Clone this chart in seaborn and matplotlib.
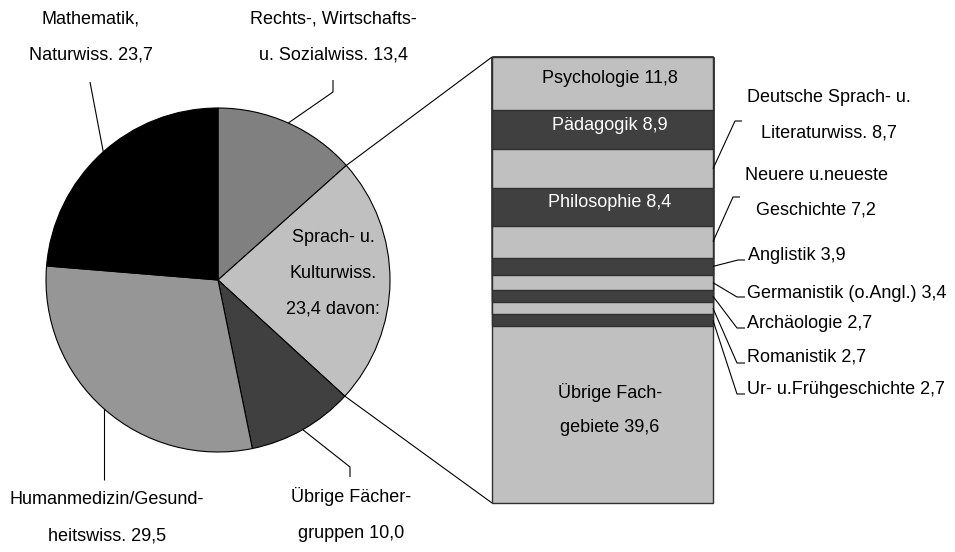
import numpy as np
import pandas as pd
import matplotlib.pyplot as plt
import seaborn as sns
from matplotlib import font_manager

# Fächergruppen (Kreis), Anteile in %
gruppen = ["Rechts-, Wirtschafts-\nu. Sozialwiss.", "Sprach- u.\nKulturwiss.",
           "Übrige Fächer-\ngruppen", "Humanmedizin/Gesund-\nheitswiss.",
           "Mathematik,\nNaturwiss."]
gruppen_werte = [13.4, 23.4, 10.0, 29.5, 23.7]
gruppen_farben = ["#808080", "#c0c0c0", "#404040", "#969696", "#000000"]

# Aufschlüsselung Sprach- u. Kulturwiss. (Säule), Anteile in %
faecher = ["Psychologie", "Pädagogik", "Deutsche Sprach- u.\nLiteraturwiss.",
           "Philosophie", "Neuere u.neueste\nGeschichte", "Anglistik",
           "Germanistik (o.Angl.)", "Archäologie", "Romanistik",
           "Ur- u.Frühgeschichte", "Übrige Fach-\ngebiete"]
faecher_werte = [11.8, 8.9, 8.7, 8.4, 7.2, 3.9, 3.4, 2.7, 2.7, 2.7, 39.6]
faecher_farben = ["#c0c0c0", "#404040"] * 5 + ["#c0c0c0"]


def fmt(v):
    return f"{v:.1f}".replace(".", ",")


sns.set_theme(style="white")
# schmale Schrift, falls vorhanden
try:
    font_manager.findfont("Liberation Sans Narrow", fallback_to_default=False)
    familie, FS = "Liberation Sans Narrow", 15.5
except ValueError:
    familie, FS = "Liberation Sans", 13
plt.rcParams["font.family"] = [familie, "DejaVu Sans"]

W, H = 955, 552
fig = plt.figure(figsize=(W / 100, H / 100), dpi=100)
ax = fig.add_axes([0, 0, 1, 1])
ax.set_zorder(3)

# --- Kreis ---
cx, cy, r = 218, H - 280, 172
wedges, _ = ax.pie(gruppen_werte, colors=gruppen_farben, startangle=90,
                   counterclock=False, center=(cx, cy), radius=r,
                   wedgeprops=dict(edgecolor="black", linewidth=0.8))
ax.set_xlim(0, W)
ax.set_ylim(0, H)
ax.set_aspect("auto")
ax.axis("off")


def rand(theta, rr=r):
    t = np.deg2rad(theta)
    return cx + rr * np.cos(t), cy + rr * np.sin(t)


def zeilen(x, yc, text, ha="center", color="black", gap=37):
    parts = text.split("\n")
    n = len(parts)
    for i, s in enumerate(parts):
        ax.text(x, yc + ((n - 1) / 2 - i) * gap, s, ha=ha, va="center",
                fontsize=FS, color=color)


def linie(pts):
    xs, ys = zip(*pts)
    ax.plot(xs, ys, color="black", lw=0.8, solid_capstyle="butt")


mitte = [(w.theta1 + w.theta2) / 2 for w in wedges]

# Beschriftungen Kreis (Positionen in Pixel von oben)
zeilen(333, H - 37, f"{gruppen[0]} {fmt(gruppen_werte[0])}")
linie([rand(mitte[0]), (333, H - 92), (333, H - 80)])
zeilen(333, H - 273, f"{gruppen[1]}\n{fmt(gruppen_werte[1])} davon:", gap=36)
zeilen(351, H - 515.5, f"{gruppen[2]} {fmt(gruppen_werte[2])}")
linie([rand(mitte[2]), (350, H - 467), (350, H - 477)])
zeilen(107, H - 517.5, f"{gruppen[3]} {fmt(gruppen_werte[3])}")
px, py = rand(mitte[3])
linie([(px, py), (px, H - 480)])
zeilen(91, H - 37, f"{gruppen[4]} {fmt(gruppen_werte[4])}")
linie([rand(mitte[4], r - 4), (90, H - 82)])

# --- Säule ---
df = pd.DataFrame({"fach": faecher, "wert": faecher_werte})
df["bis"] = df["wert"].cumsum()
df["von"] = df["bis"] - df["wert"]
df["saeule"] = ""

ax2 = fig.add_axes([492 / W, (H - 503) / H, 221 / W, 446 / H])
ax2.set_zorder(1)
sns.barplot(data=df, x="saeule", y="bis", hue="fach", hue_order=faecher[::-1],
            palette=dict(zip(faecher, faecher_farben)), dodge=False, width=1,
            saturation=1, errorbar=None, edgecolor="#303030", linewidth=1,
            legend=False, ax=ax2)
for p in ax2.patches:
    p.set_zorder(200 - p.get_height())
    p.set_clip_on(False)
ax2.set_xlim(-0.5, 0.5)
ax2.set_ylim(100, 0)
ax2.axis("off")


def haupt(x, y):
    return ax.transData.inverted().transform(ax2.transData.transform((x, y)))


# Verbindungslinien Kreis -> Säule
w_sp = wedges[1]
linie([rand(w_sp.theta2), tuple(haupt(-0.5, 0))])
linie([rand(w_sp.theta1), tuple(haupt(-0.5, 100))])

# Beschriftungen in der Säule
innen = [0, 1, 3, 10]
for i in innen:
    row = df.iloc[i]
    x, y = haupt(0.034, (row["von"] + row["bis"]) / 2 - 1.0)
    col = "white" if faecher_farben[i] == "#404040" else "black"
    zeilen(x, y, f"{row['fach']} {fmt(row['wert'])}", color=col, gap=35)

# Beschriftungen rechts neben der Säule: (Knick x, Knick y, Ende x, Text x, Text y, ha)
aussen = {
    2: (735, 121, 742, 829, 115.5, "center"),
    4: (733, 197, 740, 816, 192.5, "center"),
    5: (738, 260, 745, 748, 256, "left"),
    6: (737, 297, 745, 747, 293, "left"),
    7: (737, 328, 745, 747, 323, "left"),
    8: (737, 363, 745, 747, 357, "left"),
    9: (737, 394, 745, 747, 390, "left"),
}
for i, (kx, ky, ex, tx, ty, ha) in aussen.items():
    row = df.iloc[i]
    sx, sy = haupt(0.5, (row["von"] + row["bis"]) / 2)
    linie([(sx, sy), (kx, H - ky), (ex, H - ky)])
    zeilen(tx, H - ty, f"{row['fach']} {fmt(row['wert'])}", ha=ha, gap=35)

fig.savefig("out.png", dpi=100, facecolor="white")
